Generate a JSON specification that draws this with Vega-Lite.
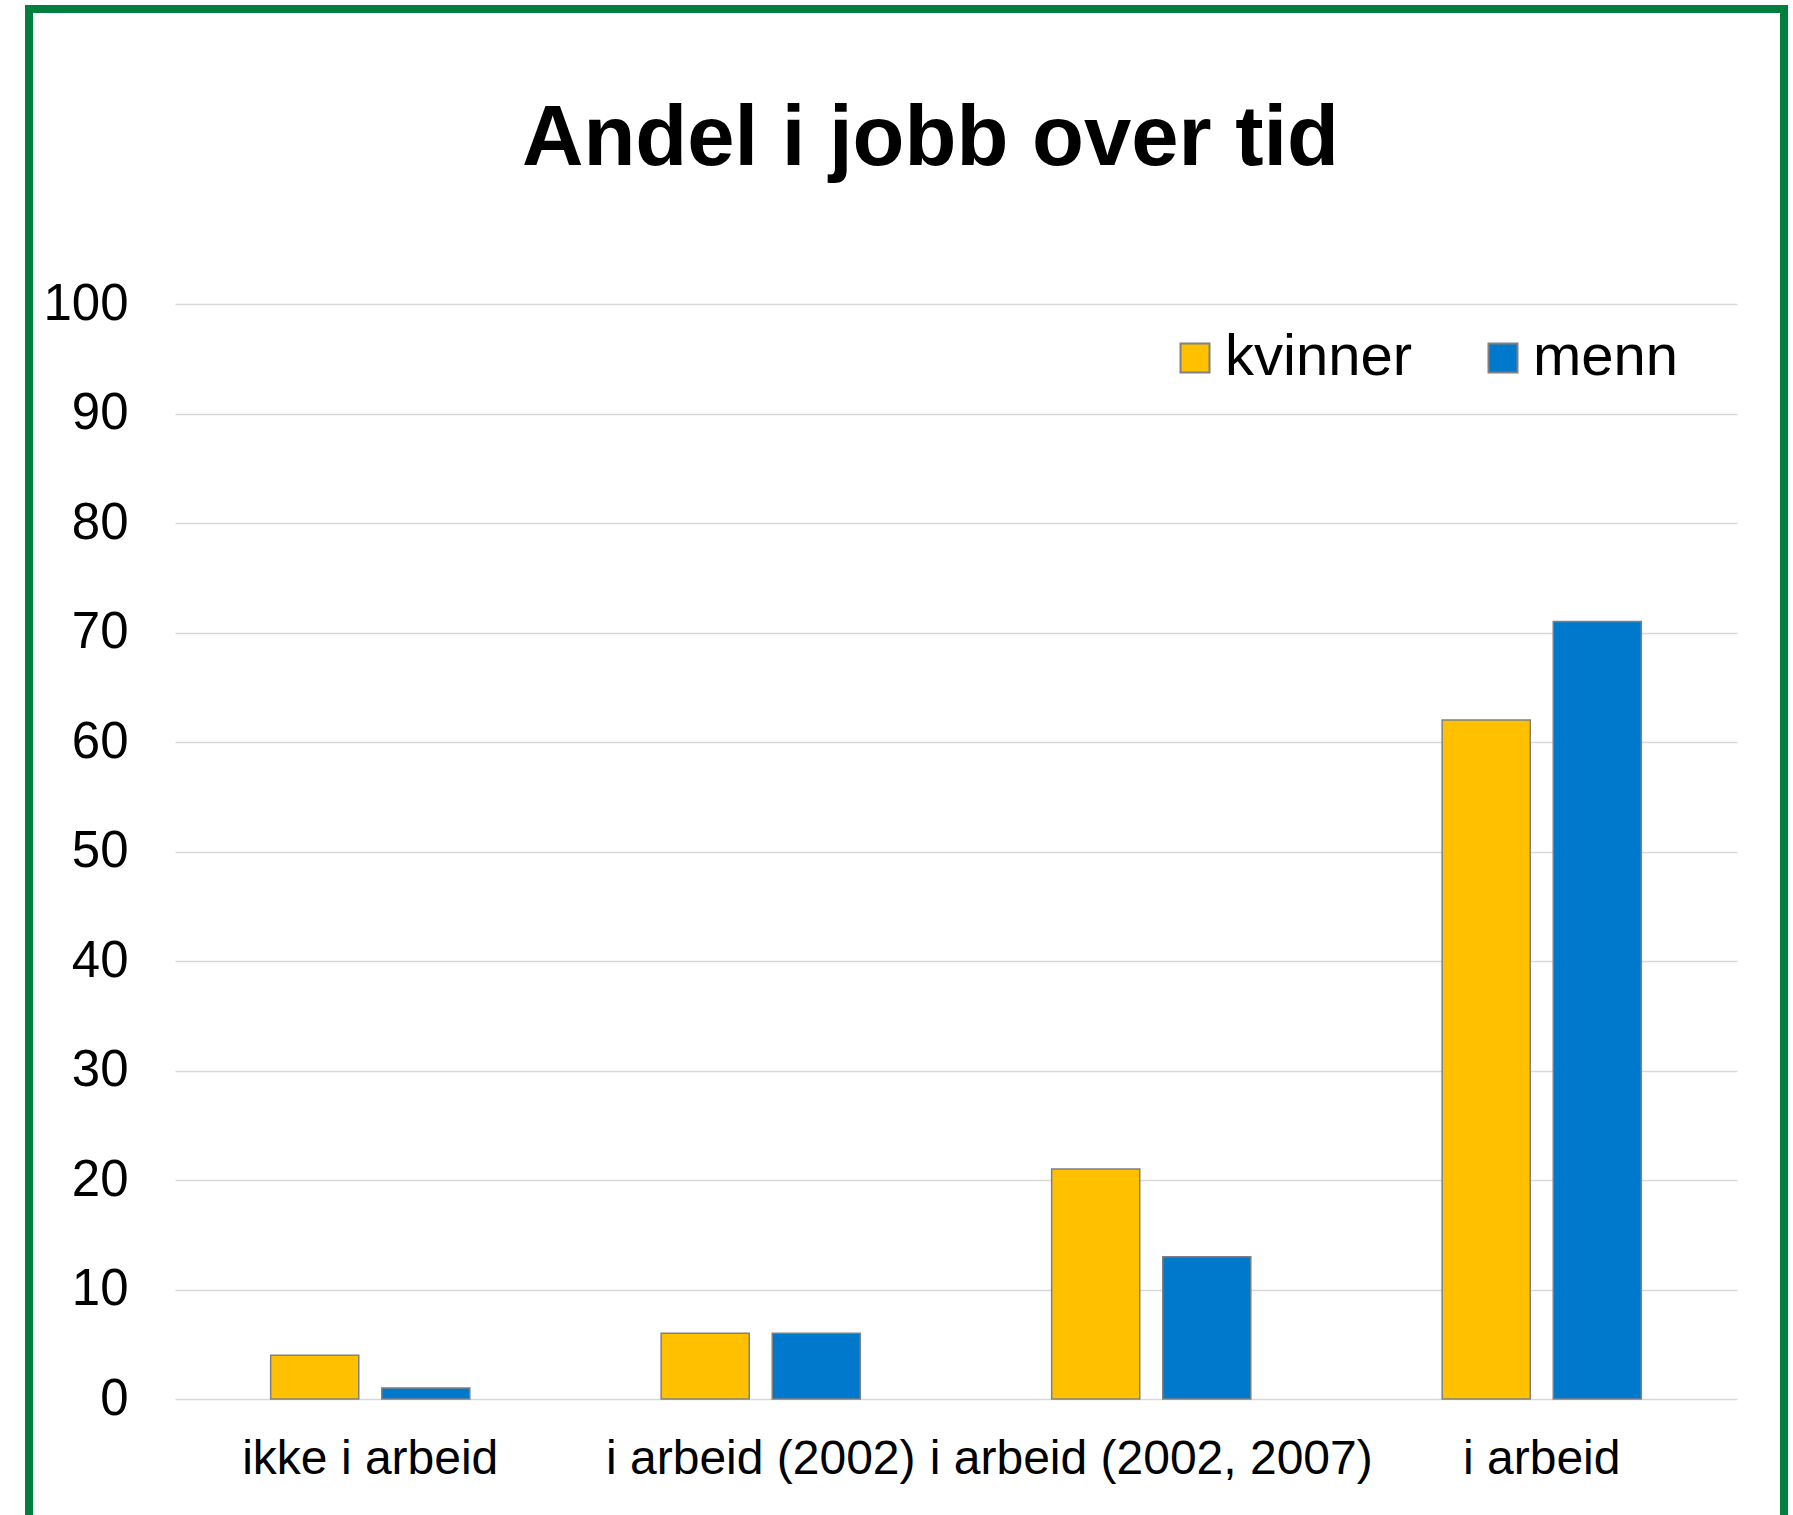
{
  "$schema": "https://vega.github.io/schema/vega-lite/v6.json",
  "autosize": {"type": "none"},
  "padding": {"left": 29, "top": 9, "right": 5, "bottom": 0},
  "width": 1755,
  "height": 1510,
  "background": "white",
  "config": {
    "view": {"stroke": "#007F3F", "strokeWidth": 8},
    "font": "Liberation Sans"
  },
  "title": {
    "text": "Andel i jobb over tid",
    "font": "Liberation Sans",
    "fontSize": 85,
    "fontWeight": "bold",
    "color": "black",
    "anchor": "middle",
    "frame": "group",
    "baseline": "alphabetic",
    "offset": -241,
    "dx": 24
  },
  "data": {
    "values": [
      {"kategori": "ikke i arbeid", "kjonn": "kvinner", "andel": 4},
      {"kategori": "ikke i arbeid", "kjonn": "menn", "andel": 1},
      {"kategori": "i arbeid (2002)", "kjonn": "kvinner", "andel": 6},
      {"kategori": "i arbeid (2002)", "kjonn": "menn", "andel": 6},
      {"kategori": "i arbeid (2002, 2007)", "kjonn": "kvinner", "andel": 21},
      {"kategori": "i arbeid (2002, 2007)", "kjonn": "menn", "andel": 13},
      {"kategori": "i arbeid", "kjonn": "kvinner", "andel": 62},
      {"kategori": "i arbeid", "kjonn": "menn", "andel": 71}
    ]
  },
  "mark": {"type": "bar", "stroke": "#808080", "strokeWidth": 1.5},
  "encoding": {
    "x": {
      "field": "kategori",
      "type": "nominal",
      "sort": null,
      "scale": {"range": [146, 1708], "paddingInner": 0.49, "paddingOuter": 0.245},
      "axis": {
        "title": null,
        "orient": "bottom",
        "offset": -120,
        "labelPadding": 36,
        "labelFontSize": 48,
        "labelFont": "Liberation Sans",
        "labelAngle": 0,
        "labelColor": "black",
        "ticks": false,
        "domain": false,
        "grid": false,
        "labelOverlap": false,
        "labelLimit": 1000
      }
    },
    "xOffset": {
      "field": "kjonn",
      "type": "nominal",
      "sort": ["kvinner", "menn"],
      "scale": {"paddingInner": 0.207, "paddingOuter": 0}
    },
    "y": {
      "field": "andel",
      "type": "quantitative",
      "scale": {"domain": [0, 100], "range": [1390, 295], "nice": false},
      "axis": {
        "title": null,
        "values": [0, 10, 20, 30, 40, 50, 60, 70, 80, 90, 100],
        "offset": -146,
        "labelPadding": 47,
        "labelFontSize": 51,
        "labelFont": "Liberation Sans",
        "labelColor": "black",
        "ticks": false,
        "domain": false,
        "gridColor": "#d9d9d9",
        "gridWidth": 1.5
      }
    },
    "color": {
      "field": "kjonn",
      "type": "nominal",
      "scale": {"domain": ["kvinner", "menn"], "range": ["#FFC000", "#0079CD"]},
      "legend": {
        "orient": "none",
        "legendX": 1137,
        "legendY": 320,
        "direction": "horizontal",
        "title": null,
        "symbolType": "square",
        "symbolSize": 841,
        "symbolStrokeColor": "#808080",
        "symbolStrokeWidth": 2,
        "symbolOpacity": 1,
        "labelFontSize": 58,
        "labelFont": "Liberation Sans",
        "labelColor": "black",
        "labelOffset": 1,
        "columnPadding": 62,
        "padding": 0,
        "labelLimit": 500
      }
    }
  }
}
